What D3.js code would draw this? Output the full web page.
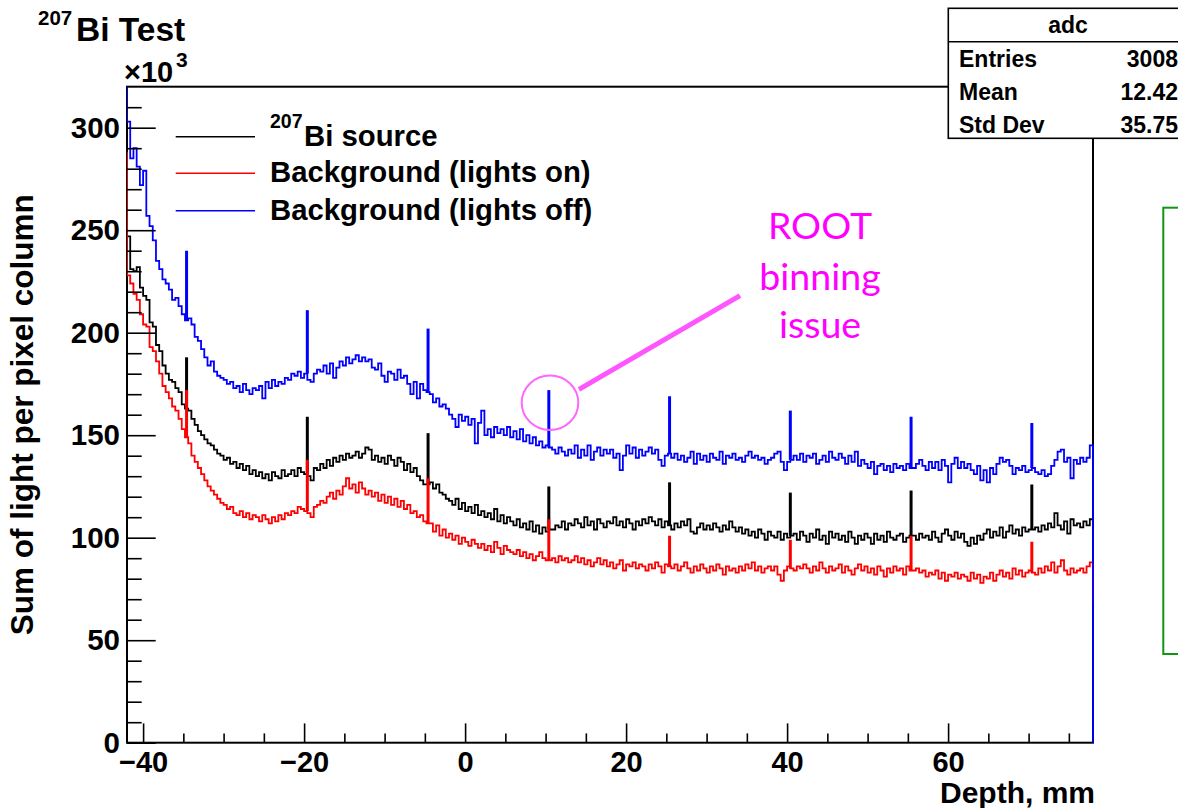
<!DOCTYPE html>
<html><head><meta charset="utf-8">
<script src="https://cdn.jsdelivr.net/npm/d3@7"></script>
<style>
body{margin:0;background:#fff;}
svg{display:block;}
text{font-family:"Liberation Sans",Arial,Helvetica,sans-serif;font-weight:bold;fill:#000;}
</style></head><body>
<svg id="c" width="1178" height="808"></svg>
<script>
// ---------------- DATA ----------------
const binStart = -42, binWidth = 0.4;   // 300 bins, -42 .. 78 mm
const xDomain = [-42, 78];
const yDomain = [0, 320];                // in units of 10^3

// 207Bi source (black)
const sourceVals = [
247,231,230,232,222,218,216,205,203,194,
191,184,180,177,176,173,171,165,163,162,
158,155,152,150,148,146,145,143,141,140,
138,139,136,137,134,136,133,135,131,133,
130,132,129,131,128,132,130,129,133,130,
131,133,130,134,132,131,130,128,134,133,
136,134,138,135,139,137,140,138,141,139,
140,142,139,141,144,143,138,140,137,139,
136,140,138,135,139,137,133,136,132,134,
130,128,126,126,127,124,126,122,121,119,
118,116,119,114,117,113,115,112,116,111,
113,110,112,109,114,108,111,107,110,108,
106,109,105,107,104,108,103,106,102,105,
103,104,104,106,105,108,104,107,106,109,
107,105,110,106,108,104,109,107,105,108,
107,110,106,108,105,109,107,104,108,106,
109,107,110,108,106,109,105,108,106,104,
107,105,108,106,109,103,102,105,107,104,
106,104,107,105,103,106,104,108,105,103,
105,102,104,101,103,100,104,102,99,103,
101,100,103,99,102,100,101,102,99,103,
101,98,102,100,104,99,101,97,103,100,
102,99,101,98,103,100,97,101,99,102,
100,97,102,99,101,98,103,100,99,101,
102,98,100,101,101,99,102,100,101,99,
103,100,98,102,104,101,99,103,100,102,
98,96,100,97,101,99,102,104,100,103,
101,105,100,103,106,102,104,101,105,103,
104,104,105,103,106,104,107,105,112,106,
104,108,102,109,106,107,105,108,106,109];

// Background, lights on (red)
const lightsOnVals = [
228,224,219,216,209,204,203,193,191,186,
180,174,171,168,164,162,158,153,149,146,
140,137,134,131,128,125,123,121,119,117,
116,114,115,112,111,113,110,112,109,111,
110,108,111,109,107,110,108,111,109,112,
111,113,112,115,114,113,112,110,115,116,
118,117,120,122,119,123,121,125,129,124,
126,122,127,124,121,123,120,122,118,121,
117,120,116,119,115,118,114,116,112,113,
110,111,108,107,107,103,106,101,104,100,
102,99,101,97,100,98,96,99,97,95,
97,94,96,93,98,95,92,96,94,93,
92,94,91,93,90,92,89,91,93,90,
89,89,90,88,91,89,90,88,89,91,
88,90,87,89,86,88,90,87,89,86,
88,85,87,89,84,87,86,88,85,87,
86,84,87,85,88,86,83,87,86,85,
87,84,86,88,85,83,86,84,87,85,
83,86,84,87,85,82,86,84,85,83,
86,84,87,85,88,84,86,83,85,86,
84,86,82,79,84,86,85,84,86,85,
87,85,83,86,84,88,85,83,86,84,
85,87,83,86,84,82,85,87,84,86,
83,85,82,86,84,81,85,83,86,84,
85,82,86,84,84,85,83,84,81,83,
82,84,80,83,79,82,81,83,80,82,
81,79,83,80,82,78,81,80,83,79,
82,84,81,83,80,85,82,84,81,83,
84,83,82,85,83,86,84,88,83,86,
89,84,82,85,83,84,85,83,86,88];

// Background, lights off (blue)
const lightsOffVals = [
303,285,290,281,272,279,257,252,245,235,
231,226,224,221,216,217,213,209,206,207,
204,198,196,192,188,184,186,181,179,178,
177,175,176,173,174,171,175,172,170,173,
172,174,168,176,173,177,174,176,175,178,
177,180,179,181,178,180,177,176,180,182,
181,184,180,185,178,183,186,184,188,185,
187,189,186,188,186,187,183,182,185,179,
176,181,180,177,182,178,179,175,170,176,
168,175,172,171,170,166,168,164,165,163,
160,158,154,160,157,159,155,158,146,156,
162,150,153,149,154,151,153,150,154,149,
152,148,153,147,150,146,149,145,147,144,
145,144,143,141,144,142,140,143,141,145,
139,143,140,145,138,142,144,140,143,141,
143,139,141,133,140,145,141,144,139,143,
140,142,144,141,143,138,135,140,141,139,
141,138,140,137,139,142,136,141,138,140,
137,141,139,138,142,136,140,139,141,138,
139,137,140,142,139,140,138,139,136,138,
139,141,142,137,133,137,138,140,138,141,
137,140,139,141,136,138,140,137,142,139,
138,141,139,136,140,137,142,135,138,136,
134,137,131,135,136,133,135,132,136,134,
135,133,136,134,134,136,138,135,133,137,
134,137,133,138,135,127,136,139,134,137,
134,136,133,131,135,128,133,127,134,131,
136,139,137,138,135,131,134,133,135,132,
133,134,132,131,133,130,131,135,138,142,
143,137,139,129,138,136,139,137,139,145];

// periodic single-bin spikes ("ROOT binning issue"), every 15 mm
const spikeX = [-34.6, -19.6, -4.6, 10.4, 25.4, 40.4, 55.4, 70.4];
const sourceSpikes    = [188, 159, 151, 125, 127, 122, 123, 126];
const lightsOnSpikes  = [172, 138, 129, 109, 101, 99, 101, 98];
const lightsOffSpikes = [240, 211, 202, 172, 169, 162, 159, 156];

// values at the left/right edges (under/overflow steps)
const edgeStart = [250, 288, 330];   // source, lights on, lights off
const edgeEnd   = [89, 69, 0];

const seriesLabels = ["Bi source", "Background (lights on)", "Background (lights off)"];
const seriesColors = ["#000000", "#ff0000", "#0000ff"];

const yMajorTicks = [0, 50, 100, 150, 200, 250, 300];
const yMinorTicks = [10,20,30,40,60,70,80,90,110,120,130,140,160,170,180,190,210,220,230,240,260,270,280,290,310];
const xMajorTicks = [-40, -20, 0, 20, 40, 60];
const xMinorTicks = [-35,-30,-25,-15,-10,-5,5,10,15,25,30,35,45,50,55,65,70,75];

const statsTitle = "adc";
const statsLabels = ["Entries", "Mean", "Std Dev"];
const statsValues = ["3008", "12.42", "35.75"];
const noteLines = ["ROOT", "binning", "issue"];

// ---------------- DRAW ----------------
const svg = d3.select("#c");
const L = 127, R = 1093, T = 86.7, B = 742.7;
const x = d3.scaleLinear(xDomain, [L, R]);
const y = d3.scaleLinear(yDomain, [B, T]);

svg.append("rect").attr("width",1178).attr("height",808).attr("fill","#fff");

svg.append("clipPath").attr("id","frameClip")
  .append("rect").attr("x",L).attr("y",T).attr("width",R-L+1.5).attr("height",B-T);

// frame
svg.append("rect").attr("x",L).attr("y",T).attr("width",R-L).attr("height",B-T)
  .attr("fill","none").attr("stroke","#000").attr("stroke-width",2);

// histograms
const allVals = [sourceVals, lightsOnVals, lightsOffVals];
const allSpikes = [sourceSpikes, lightsOnSpikes, lightsOffSpikes];
const line = d3.line().x(d=>x(d[0])).y(d=>y(d[1])).curve(d3.curveStepAfter);
const gH = svg.append("g").attr("clip-path","url(#frameClip)");
allVals.forEach((vals, s) => {
  const pts = [[binStart, edgeStart[s]]];
  vals.forEach((v,i) => pts.push([binStart + i*binWidth, v]));
  pts.push([xDomain[1], vals[vals.length-1]]);
  pts.push([xDomain[1], edgeEnd[s]]);
  gH.append("path").attr("d", line(pts)).attr("fill","none")
    .attr("stroke", seriesColors[s]).attr("stroke-width",1.8).attr("stroke-linejoin","miter");
  gH.selectAll(null).data(spikeX).enter().append("line")
    .attr("x1", d=>x(d)).attr("x2", d=>x(d))
    .attr("y1", d=>y(vals[Math.floor((d-binStart)/binWidth)]))
    .attr("y2", (d,i)=>y(allSpikes[s][i]))
    .attr("stroke", seriesColors[s]).attr("stroke-width",3);
});

// axes
const yAx = svg.append("g").attr("transform",`translate(${L},0)`)
  .call(d3.axisLeft(y).tickValues(yMajorTicks).tickSize(-28.7).tickPadding(7).tickFormat(d3.format("d")));
svg.append("g").attr("transform",`translate(${L},0)`)
  .call(d3.axisLeft(y).tickValues(yMinorTicks).tickSize(-14.7).tickFormat(""));
const xAx = svg.append("g").attr("transform",`translate(0,${B})`)
  .call(d3.axisBottom(x).tickValues(xMajorTicks).tickSize(-19.3).tickPadding(9));
svg.append("g").attr("transform",`translate(0,${B})`)
  .call(d3.axisBottom(x).tickValues(xMinorTicks).tickSize(-9.3).tickFormat(""));
svg.selectAll(".domain").remove();
svg.selectAll(".tick line").attr("stroke","#000").attr("stroke-width",1.6);
yAx.selectAll("text").attr("font-size",29.5).attr("font-family",null);
xAx.selectAll("text").attr("font-size",29).attr("font-family",null);
svg.selectAll(".tick text").attr("fill","#000");

// axis titles
svg.append("text").attr("x",1095).attr("y",803).attr("text-anchor","end")
  .attr("font-size",30).text("Depth, mm");
svg.append("text").attr("transform",`translate(33,${(T+B)/2}) rotate(-90)`)
  .attr("text-anchor","middle").attr("font-size",31.5).text("Sum of light per pixel column");

// x10^3
svg.append("text").attr("x",124).attr("y",81.5).attr("font-size",29).text("\u00d710");
svg.append("text").attr("x",176).attr("y",67).attr("font-size",21).text("3");

// title
svg.append("text").attr("x",38).attr("y",24.5).attr("font-size",20.5).text("207");
svg.append("text").attr("x",76).attr("y",40.7).attr("font-size",33.5).text("Bi Test");

// legend
const legY = [136.7, 173.3, 210.7];
const leg = svg.append("g");
seriesLabels.forEach((lab,i) => {
  leg.append("line").attr("x1",175.7).attr("x2",255).attr("y1",legY[i]).attr("y2",legY[i])
    .attr("stroke",seriesColors[i]).attr("stroke-width",1.4);
  if (i === 0) {
    leg.append("text").attr("x",270).attr("y",legY[i]-8.5).attr("font-size",19.5).text("207");
    leg.append("text").attr("x",304).attr("y",legY[i]+8.8).attr("font-size",29.3).text(lab);
  } else {
    leg.append("text").attr("x",270).attr("y",legY[i]+8.8).attr("font-size",29.3).text(lab);
  }
});

// stats box
const sb = svg.append("g");
sb.append("rect").attr("x",948.3).attr("y",8.3).attr("width",240).attr("height",130)
  .attr("fill","#fff").attr("stroke","#000").attr("stroke-width",1.6);
sb.append("line").attr("x1",948.3).attr("x2",1190).attr("y1",41.7).attr("y2",41.7)
  .attr("stroke","#000").attr("stroke-width",1.6);
sb.append("text").attr("x",1068).attr("y",33).attr("text-anchor","middle").attr("font-size",23).text(statsTitle);
const statY = [66.7, 100, 132.5];
statsLabels.forEach((lab,i) => {
  sb.append("text").attr("x",959).attr("y",statY[i]).attr("font-size",23).text(lab);
  sb.append("text").attr("x",1178).attr("y",statY[i]).attr("text-anchor","end").attr("font-size",23).text(statsValues[i]);
});

// green box on the right
svg.append("rect").attr("x",1163.3).attr("y",207.7).attr("width",40).attr("height",446.3)
  .attr("fill","none").attr("stroke","#129612").attr("stroke-width",2);

// annotation
const note = svg.append("g");
note.append("line").attr("x1",579).attr("y1",389.3).attr("x2",740).attr("y2",295.7)
  .attr("stroke","#ff55ff").attr("stroke-width",5);
note.append("ellipse").attr("cx",550).attr("cy",402.7).attr("rx",28.3).attr("ry",27.2)
  .attr("fill","none").attr("stroke","#ff66ff").attr("stroke-width",2);
const noteY = [239.3, 290, 338.3];
noteLines.forEach((t,i) => {
  note.append("text").attr("x",820).attr("y",noteY[i]).attr("text-anchor","middle")
    .style("font-family","Lato, 'Noto Sans', sans-serif").style("font-weight","normal")
    .style("fill","#ff00ff").attr("font-size",37.5).text(t);
});
</script>
</body></html>
